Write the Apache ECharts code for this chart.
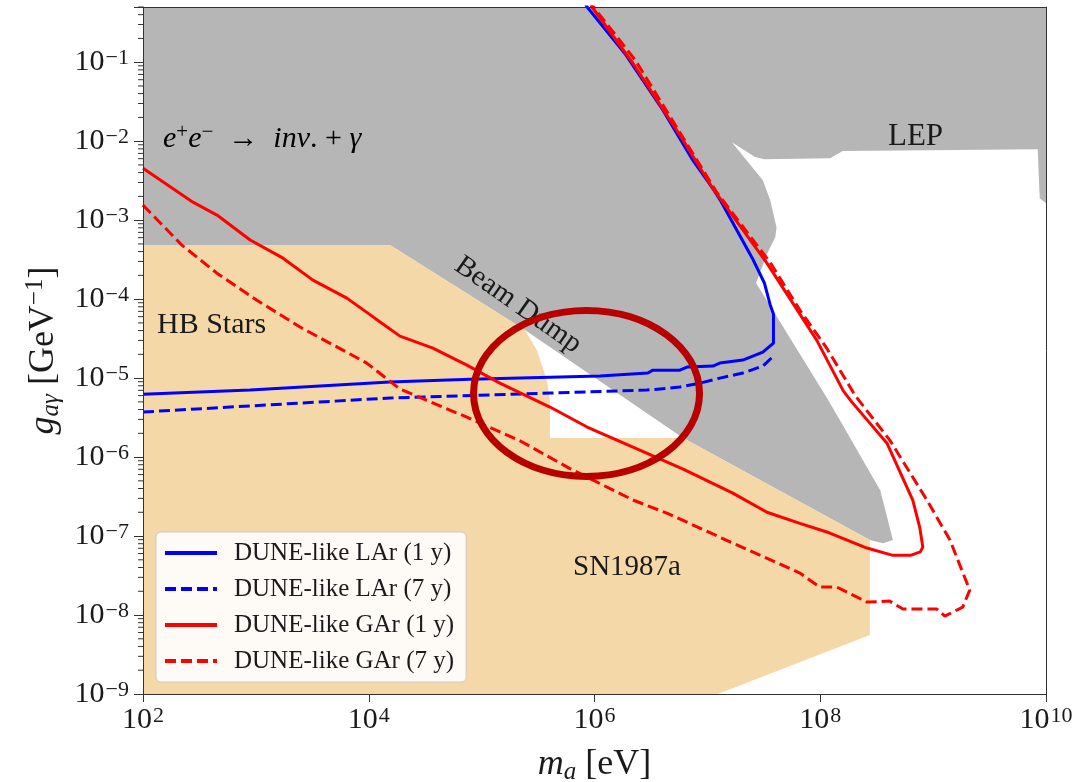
<!DOCTYPE html>
<html>
<head>
<meta charset="utf-8">
<title>DUNE-like ALP sensitivity</title>
<script src="https://cdn.jsdelivr.net/npm/echarts@6/dist/echarts.min.js"></script>
<style>
html, body { margin: 0; padding: 0; background: #fff; }
#chart { width: 1086px; height: 782px; }
</style>
</head>
<body>
<div id="chart"></div>
<script>
// axis ranges
var massRange = [1e2, 1e10];
var couplingRange = [1e-9, 0.5];

// excluded regions, [m_a (eV), g (GeV^-1)] boundary points
// e+e- -> inv + gamma / beam dump / LEP (gray)
var grayExcluded = [
    [1e2, 0.5], [1e10, 0.5], [1e10, 1.64e-3], [8.8e9, 1.9e-3], [8.45e9, 7.9e-3],
    [1.58e8, 7.5e-3], [1.22e8, 6.1e-3], [3.2e7, 5.9e-3], [2.64e7, 6.3e-3], [1.65e7, 9.7e-3],
    [3.1e7, 3.2e-3], [3.6e7, 1.8e-3], [4.1e7, 8.1e-4], [4.0e7, 6.1e-4], [3.4e7, 3.8e-4],
    [2.7e7, 1.6e-4], [1.14e8, 5.7e-6], [1.49e8, 2.94e-6], [3.4e8, 3.8e-7], [4.4e8, 8.9e-8],
    [3.6e8, 8.1e-8], [2.75e8, 8.9e-8], [6.1e6, 1.74e-6], [2.42e5, 4.06e-5], [1.54e4, 4.83e-4],
    [1e2, 4.83e-4]
];
// HB stars + SN1987a (beige)
var starsExcluded = [
    [1e2, 4.83e-4], [1.54e4, 4.83e-4], [2.42e5, 4.06e-5], [3.09e5, 2.26e-5], [3.78e5, 9.4e-6],
    [4.03e5, 5.27e-6], [4.03e5, 1.74e-6], [6.1e6, 1.74e-6], [2.75e8, 8.9e-8], [2.75e8, 5.6e-9],
    [1.24e7, 1e-9], [1e2, 1e-9]
];

// sensitivity curves
var lar1y = [
    [1e2, 6.26e-6], [8.9e2, 7.05e-6], [1.54e4, 8.9e-6], [7.9e4, 9.7e-6], [1.12e6, 1.06e-5],
    [2.97e6, 1.16e-5], [3.29e6, 1.26e-5], [5.7e6, 1.26e-5], [6.6e6, 1.38e-5], [1.12e7, 1.42e-5],
    [1.29e7, 1.55e-5], [2.06e7, 1.69e-5], [3.1e7, 2.13e-5], [3.85e7, 2.77e-5], [3.85e7, 6.5e-5],
    [3.6e7, 8.5e-5], [3.2e7, 1.6e-4], [2.5e7, 3.3e-4], [1.75e7, 8.3e-4], [1.33e7, 1.7e-3],
    [1.12e7, 2.5e-3], [7.45e6, 5.7e-3], [4.04e6, 2.47e-2], [1.85e6, 0.13], [8.6e5, 0.5], [7.5e5, 0.7]
];
var lar7y = [
    [1e2, 3.72e-6], [1.54e4, 5.6e-6], [4.03e5, 6.46e-6], [2.91e6, 7.05e-6], [5.7e6, 7.7e-6],
    [8.6e6, 8.65e-6], [1.29e7, 1.0e-5], [2.06e7, 1.16e-5], [3.1e7, 1.42e-5], [3.85e7, 1.9e-5]
];
var gar1y = [
    [1e2, 4.55e-3], [2.77e2, 1.69e-3], [4.52e2, 1.16e-3], [8.9e2, 5.6e-4], [1.74e3, 3.3e-4],
    [3.2e3, 1.74e-4], [6.4e3, 1.03e-4], [1.14e4, 5.7e-5], [1.89e4, 3.4e-5], [3.7e4, 2.4e-5],
    [7.4e4, 1.46e-5], [1.45e5, 8.65e-6], [4.03e5, 4.3e-6], [8.6e5, 2.4e-6], [2.19e6, 1.34e-6],
    [6.1e6, 7.05e-7], [1.68e7, 3.5e-7], [3.37e7, 2.0e-7], [6.6e7, 1.45e-7], [1.2e8, 1.1e-7],
    [2.59e8, 7.05e-8], [4.4e8, 5.7e-8], [6.3e8, 5.7e-8], [7.7e8, 6.3e-8], [8.1e8, 7.25e-8],
    [7.6e8, 1.3e-7], [6.6e8, 2.86e-7], [3.9e8, 1.5e-6], [1.9e8, 5.0e-6], [1.6e8, 6.9e-6],
    [9.3e7, 3.03e-5], [3.37e7, 2.86e-4], [1.08e7, 2.7e-3], [6.1e6, 1.03e-2], [2.19e6, 9.7e-2],
    [9.5e5, 0.5], [8.5e5, 0.7]
];
var gar7y = [
    [1e2, 1.55e-3], [2.21e2, 4.83e-4], [4.52e2, 2.13e-4], [1.02e3, 9.7e-5], [2.46e3, 4.43e-5],
    [9.6e3, 1.55e-5], [1.89e4, 7.26e-6], [7.4e4, 3.2e-6], [2.2e5, 1.6e-6], [6.0e5, 7.2e-7],
    [2.19e6, 2.86e-7], [4.38e6, 1.95e-7], [1.68e7, 8.15e-8], [6.6e7, 3.4e-8], [9.9e7, 2.26e-8],
    [1.4e8, 2.26e-8], [2.59e8, 1.46e-8], [4.13e8, 1.5e-8], [5.4e8, 1.19e-8], [1.08e9, 1.19e-8],
    [1.27e9, 9.7e-9], [1.83e9, 1.26e-8], [2.11e9, 2.07e-8], [1.41e9, 8.9e-8], [8.8e8, 2.86e-7],
    [4.13e8, 1.64e-6], [2.04e8, 6.0e-6], [1.14e8, 2.4e-5], [6.6e7, 7.26e-5], [3.58e7, 2.94e-4],
    [1.2e7, 2.3e-3], [2.3e6, 0.106], [9.8e5, 0.5], [8.8e5, 0.7]
];

// highlighted parameter point (hand-drawn ellipse)
var highlight = [[8.5e5, 6.4e-6]];

var serif = "'Liberation Serif', 'DejaVu Serif', serif";
var ink = '#1a1a1a';

function powerLabel(value) {
    var e = Math.log10(value);
    var n = Math.round(e);
    if (Math.abs(e - n) > 1e-6) {
        return '';
    }
    return '{b|10}{s|' + (n < 0 ? '\u2212' + (-n) : n) + '}';
}

var powerRich = {
    b: { fontFamily: serif, fontSize: 30, lineHeight: 30, verticalAlign: 'bottom', color: ink },
    s: { fontFamily: serif, fontSize: 22, lineHeight: 22, verticalAlign: 'top', padding: [0, 0, 12, 1], color: ink }
};

var mathRich = {
    i: { fontFamily: serif, fontStyle: 'italic', fontSize: 36, lineHeight: 36, color: ink },
    n: { fontFamily: serif, fontSize: 36, lineHeight: 36, color: ink },
    sub: { fontFamily: serif, fontStyle: 'italic', fontSize: 25, lineHeight: 25, padding: [16, 0, 0, 0], color: ink },
    sup: { fontFamily: serif, fontSize: 25, lineHeight: 25, padding: [0, 0, 16, 0], color: ink }
};

var labelRich = {
    i: { fontFamily: serif, fontStyle: 'italic', fontSize: 30, lineHeight: 30, color: ink },
    n: { fontFamily: serif, fontSize: 30, lineHeight: 30, color: ink },
    sup: { fontFamily: serif, fontSize: 21, lineHeight: 21, padding: [0, 0, 13, 0], color: ink }
};

function regionSeries(points, color, z) {
    return {
        type: 'custom',
        silent: true,
        clip: true,
        z: z,
        data: [points[0]],
        renderItem: function (params, api) {
            return {
                type: 'polygon',
                shape: { points: points.map(function (p) { return api.coord(p); }) },
                style: { fill: color }
            };
        }
    };
}

function curveSeries(name, points, color, dashed) {
    return {
        name: name,
        type: 'line',
        data: points,
        symbol: 'none',
        clip: true,
        z: 3,
        lineStyle: { color: color, width: 3, type: dashed ? [11, 5] : 'solid' },
        itemStyle: { color: color }
    };
}

// minor ticks 2..9 x 10^n on the coupling axis
var yMinorTicks = [];
for (var d = -9; d <= -1; d++) {
    for (var k = 2; k <= 9; k++) {
        var v = k * Math.pow(10, d);
        if (v <= couplingRange[1]) {
            yMinorTicks.push([massRange[0], v]);
        }
    }
}

var chart = echarts.init(document.getElementById('chart'));

chart.setOption({
    animation: false,
    grid: { left: 143, right: 40, top: 7, bottom: 88, outerBoundsMode: 'none', containLabel: false },
    xAxis: [
        {
            type: 'log',
            logBase: 10,
            min: massRange[0],
            max: massRange[1],
            interval: 2,
            z: 10,
            name: '{i|m}{sub|a}{n| [eV]}',
            nameLocation: 'middle',
            nameGap: 46,
            nameTextStyle: { rich: mathRich },
            axisLine: { lineStyle: { color: '#333', width: 1 } },
            axisTick: { length: 8, lineStyle: { color: '#333' } },
            splitLine: { show: false },
            axisLabel: { margin: 11, formatter: powerLabel, rich: powerRich }
        },
        {
            type: 'log',
            logBase: 10,
            min: massRange[0],
            max: massRange[1],
            position: 'top',
            z: 10,
            axisLine: { lineStyle: { color: '#333', width: 1 } },
            axisTick: { show: false },
            axisLabel: { show: false },
            splitLine: { show: false }
        }
    ],
    yAxis: [
        {
            type: 'log',
            logBase: 10,
            min: couplingRange[0],
            max: couplingRange[1],
            interval: 1,
            z: 10,
            name: '{i|g}{sub|a\u03b3}{n| [GeV}{sup|\u22121}{n|]}',
            nameLocation: 'middle',
            nameGap: 80,
            nameTextStyle: { rich: mathRich },
            axisLine: { lineStyle: { color: '#333', width: 1 } },
            axisTick: { length: 9, lineStyle: { color: '#333' } },
            splitLine: { show: false },
            axisLabel: { margin: 14, formatter: powerLabel, rich: powerRich }
        },
        {
            type: 'log',
            logBase: 10,
            min: couplingRange[0],
            max: couplingRange[1],
            position: 'right',
            z: 10,
            axisLine: { lineStyle: { color: '#333', width: 1 } },
            axisTick: { show: false },
            axisLabel: { show: false },
            splitLine: { show: false }
        }
    ],
    legend: {
        orient: 'vertical',
        left: 156,
        top: 532,
        itemWidth: 52,
        itemHeight: 14,
        itemGap: 10,
        padding: [8, 12, 8, 7],
        backgroundColor: 'rgba(255,255,255,0.9)',
        borderColor: '#cccccc',
        borderWidth: 1,
        borderRadius: 5,
        itemStyle: { opacity: 0 },
        lineStyle: { width: 4 },
        textStyle: { fontFamily: serif, fontSize: 25, lineHeight: 26, color: ink, padding: [0, 0, 0, 12] },
        data: ['DUNE-like LAr (1 y)', 'DUNE-like LAr (7 y)', 'DUNE-like GAr (1 y)', 'DUNE-like GAr (7 y)']
    },
    graphic: [
        {
            type: 'text', left: 163, top: 122, z: 5,
            style: { text: '{i|e}{sup|+}{i|e}{sup|\u2212}{n|  \u2192  }{i|inv}{n|. + }{i|\u03b3}', rich: labelRich }
        },
        { type: 'text', left: 888, top: 121, z: 5, style: { text: 'LEP', font: '31px ' + serif, fill: ink } },
        { type: 'text', left: 157, top: 310, z: 5, style: { text: 'HB Stars', font: '30px ' + serif, fill: ink } },
        { type: 'text', left: 573, top: 553, z: 5, style: { text: 'SN1987a', font: '29px ' + serif, fill: ink } },
        {
            type: 'text', x: 518, y: 305, rotation: -35 * Math.PI / 180, z: 5,
            style: { text: 'Beam Dump', font: '29px ' + serif, fill: ink, align: 'center', verticalAlign: 'middle' }
        }
    ],
    series: [
        regionSeries(grayExcluded, '#b6b6b6', 1),
        regionSeries(starsExcluded, '#f4d8a8', 1),
        curveSeries('DUNE-like LAr (1 y)', lar1y, '#0000ff', false),
        curveSeries('DUNE-like LAr (7 y)', lar7y, '#0000ff', true),
        curveSeries('DUNE-like GAr (1 y)', gar1y, '#ff0000', false),
        curveSeries('DUNE-like GAr (7 y)', gar7y, '#ff0000', true),
        {
            type: 'custom',
            silent: true,
            z: 10,
            data: yMinorTicks,
            renderItem: function (params, api) {
                var p = api.coord([api.value(0), api.value(1)]);
                return {
                    type: 'line',
                    shape: { x1: p[0] - 5, y1: p[1], x2: p[0], y2: p[1] },
                    style: { stroke: '#333', lineWidth: 1 }
                };
            }
        },
        {
            type: 'custom',
            silent: true,
            z: 12,
            data: highlight,
            renderItem: function (params, api) {
                var c = api.coord([api.value(0), api.value(1)]);
                return {
                    type: 'ellipse',
                    shape: { cx: c[0], cy: c[1], rx: 113, ry: 83 },
                    style: { fill: 'none', stroke: '#b80000', lineWidth: 7 }
                };
            }
        }
    ]
});
</script>
</body>
</html>
